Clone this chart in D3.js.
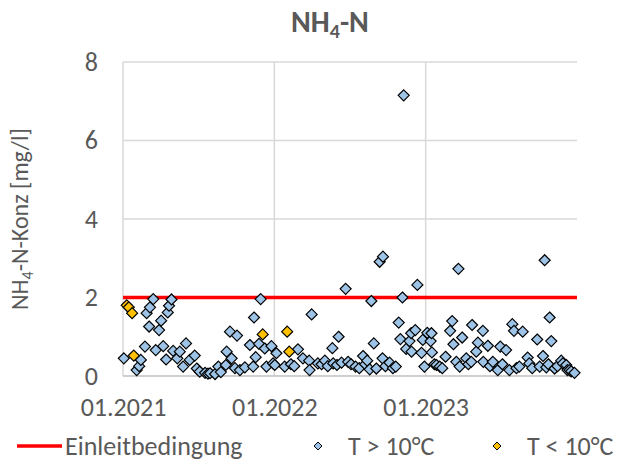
<!DOCTYPE html>
<html><head><meta charset="utf-8">
<script src="https://cdn.jsdelivr.net/npm/d3@7"></script>
<style>body{margin:0;background:#fff}svg{display:block}</style>
</head><body>
<script>
const limitDates = ["2021-01-01", "2024-01-01"];
const limitValues = [2, 2];
const xTickLabels = ["01.2021", "01.2022", "01.2023"];
const xTickDates = ["2021-01-01", "2022-01-01", "2023-01-01"];
const yTicks = [0, 2, 4, 6, 8];

const coldDates = ["2021-01-10","2021-01-15","2021-01-23","2021-01-27","2021-12-04","2022-02-01","2022-02-06"];
const coldValues = [1.80,1.75,1.60,0.52,1.06,1.13,0.62];

const warmDates = ["2021-01-03","2021-02-03","2021-02-09","2021-02-13","2021-02-23","2021-02-27","2021-03-05","2021-03-07","2021-03-15","2021-03-21",
"2021-03-29","2021-04-03","2021-04-08","2021-04-15","2021-04-19","2021-04-22","2021-04-28","2021-05-02","2021-05-12","2021-05-18",
"2021-05-26","2021-06-02","2021-06-11","2021-06-23","2021-06-28","2021-07-05","2021-07-18","2021-07-25","2021-07-30","2021-08-11",
"2021-08-19","2021-08-25","2021-09-06","2021-09-08","2021-09-16","2021-09-20","2021-09-28","2021-10-03","2021-10-10","2021-10-22",
"2021-11-03","2021-11-11","2021-11-13","2021-11-17","2021-11-25","2021-11-29","2021-12-09","2021-12-13","2021-12-25","2021-12-29",
"2022-01-02","2022-01-06","2022-01-26","2022-02-10","2022-02-18","2022-02-27","2022-03-11","2022-03-26","2022-03-27","2022-04-01",
"2022-04-16","2022-04-25","2022-05-03","2022-05-10","2022-05-21","2022-05-23","2022-06-01","2022-06-05","2022-06-12","2022-06-22",
"2022-06-28","2022-07-05","2022-07-16","2022-07-25","2022-08-03","2022-08-08","2022-08-13","2022-08-19","2022-08-23","2022-08-29",
"2022-09-04","2022-09-12","2022-09-19","2022-09-20","2022-09-26","2022-10-06","2022-10-14","2022-10-21","2022-10-28","2022-11-01",
"2022-11-06","2022-11-09","2022-11-15","2022-11-23","2022-11-27","2022-11-28","2022-12-07","2022-12-12","2022-12-22","2022-12-25",
"2022-12-29","2023-01-05","2023-01-13","2023-01-15","2023-01-16","2023-01-22","2023-01-27","2023-02-04","2023-02-10","2023-02-18",
"2023-03-01","2023-03-06","2023-03-09","2023-03-16","2023-03-21","2023-03-24","2023-03-30","2023-04-09","2023-04-14","2023-04-21",
"2023-04-23","2023-05-03","2023-05-07","2023-05-19","2023-05-20","2023-05-31","2023-06-05","2023-06-12","2023-06-24","2023-06-30",
"2023-07-05","2023-07-14","2023-07-22","2023-07-29","2023-08-02","2023-08-08","2023-08-15","2023-08-23","2023-09-04","2023-09-08",
"2023-09-15","2023-09-27","2023-10-03","2023-10-11","2023-10-15","2023-10-19","2023-10-24","2023-10-27","2023-10-31","2023-11-08",
"2023-11-15","2023-11-24","2023-11-28","2023-12-06","2023-12-09","2023-12-14","2023-12-18","2023-12-26"];
const warmValues = [0.45,0.15,0.25,0.41,0.75,1.60,1.26,1.75,1.96,0.66,
1.17,1.41,0.76,0.42,1.62,1.79,1.95,0.64,0.45,0.62,
0.24,0.83,0.41,0.52,0.19,0.11,0.08,0.06,0.07,0.05,
0.24,0.10,0.28,0.62,1.13,0.45,0.20,1.03,0.15,0.22,
0.79,0.24,1.49,0.48,0.82,1.96,0.70,0.24,0.76,0.32,
0.28,0.58,0.24,0.30,0.25,0.68,0.45,0.39,0.15,1.57,
0.32,0.30,0.39,0.25,0.71,0.32,0.28,1.00,0.34,2.22,
0.36,0.30,0.24,0.20,0.51,0.30,0.39,0.17,1.91,0.83,
0.19,2.91,0.45,3.04,0.25,0.34,0.20,0.24,1.36,0.94,
2.00,7.15,0.69,0.89,1.09,0.62,1.17,2.32,0.59,0.92,
0.24,1.10,0.89,1.09,0.60,0.30,0.28,0.24,0.20,0.49,
1.15,1.40,0.81,0.36,2.73,0.24,0.98,0.45,0.30,0.36,
1.30,0.62,0.85,1.15,0.36,0.77,0.25,0.36,0.15,0.75,
0.30,0.66,0.15,1.32,1.15,0.20,0.24,1.13,0.47,0.32,
0.20,0.93,0.24,0.51,2.95,0.22,0.30,1.49,0.89,0.19,
0.25,0.39,0.32,0.28,0.15,0.15,0.12,0.08];

const W = 632, H = 463;
const m = {left: 123, top: 62, right: 55, bottom: 87};
const font = "Calibri, Carlito, Lato, 'Open Sans', sans-serif";
const grey = "#595959";
const fs = 26;
const parse = d3.utcParse("%Y-%m-%d");

const svg = d3.select("body").append("svg").attr("width", W).attr("height", H)
  .style("font-family", font);

const x = d3.scaleUtc().domain([parse(limitDates[0]), parse(limitDates[1])]).range([m.left, W - m.right]);
const y = d3.scaleLinear().domain([0, 8]).range([H - m.bottom, m.top]);

// gridlines
svg.append("g").selectAll("line").data(yTicks.filter(d => d > 0)).join("line")
  .attr("x1", m.left).attr("x2", W - m.right).attr("y1", d => y(d)).attr("y2", d => y(d))
  .attr("stroke", "#d9d9d9").attr("stroke-width", 1.5);
svg.append("g").selectAll("line").data(xTickDates).join("line")
  .attr("x1", d => x(parse(d))).attr("x2", d => x(parse(d)))
  .attr("y1", m.top).attr("y2", y(0))
  .attr("stroke", "#d9d9d9").attr("stroke-width", 1.5);
svg.append("line").attr("x1", m.left).attr("x2", W - m.right).attr("y1", y(0)).attr("y2", y(0))
  .attr("stroke", "#bfbfbf").attr("stroke-width", 1.5);

// y axis
const yAxis = d3.axisLeft(y).tickValues(yTicks).tickSize(0).tickPadding(25);
const ya = svg.append("g").attr("transform", `translate(${m.left},0)`).call(yAxis);
ya.select(".domain").remove();
ya.selectAll("text").attr("fill", grey).style("font-size", fs + "px").style("font-family", font);

// x axis
const xAxis = d3.axisBottom(x).tickValues(xTickDates.map(parse))
  .tickFormat((d, i) => xTickLabels[i]).tickSize(0).tickPadding(22);
const xa = svg.append("g").attr("transform", `translate(0,${y(0)})`).call(xAxis);
xa.select(".domain").remove();
xa.selectAll("text").attr("fill", grey).style("font-size", fs + "px").style("font-family", font);

// limit line
const line = d3.line().x((d, i) => x(parse(limitDates[i]))).y(d => y(d));
svg.append("path").datum(limitValues).attr("d", line)
  .attr("fill", "none").attr("stroke", "#ff0000").attr("stroke-width", 3.5);

const diamond = r => `M0,${-r}L${r},0L0,${r}L${-r},0Z`;

svg.append("g").selectAll("path").data(warmValues).join("path")
  .attr("d", diamond(5.5))
  .attr("transform", (d, i) => `translate(${x(parse(warmDates[i]))},${y(d)})`)
  .attr("fill", "#9dc3e6").attr("stroke", "#000").attr("stroke-width", 1.2);
svg.append("g").selectAll("path").data(coldValues).join("path")
  .attr("d", diamond(5.5))
  .attr("transform", (d, i) => `translate(${x(parse(coldDates[i]))},${y(d)})`)
  .attr("fill", "#ffc000").attr("stroke", "#000").attr("stroke-width", 1.2);

// title
const title = svg.append("text").attr("x", 330).attr("y", 32).attr("text-anchor", "middle")
  .attr("fill", grey).style("font-size", "30px").style("font-weight", "bold");
title.append("tspan").text("NH");
title.append("tspan").text("4").style("font-size", "20px").attr("dy", 6);
title.append("tspan").text("-N").attr("dy", -6);

// y axis title
const yt = svg.append("text").attr("transform", `translate(28,${(m.top + y(0)) / 2}) rotate(-90)`)
  .attr("text-anchor", "middle").attr("fill", grey).style("font-size", "24px");
yt.append("tspan").text("NH");
yt.append("tspan").text("4").style("font-size", "16px").attr("dy", 5);
yt.append("tspan").text("-N-Konz [mg/l]").attr("dy", -5);

// legend
const ly = 446;
const lg = svg.append("g").style("font-size", fs + "px").attr("fill", grey);
lg.append("line").attr("x1", 17).attr("x2", 62).attr("y1", ly).attr("y2", ly)
  .attr("stroke", "#ff0000").attr("stroke-width", 3.5);
lg.append("text").attr("x", 65).attr("y", ly + 9).text("Einleitbedingung");
lg.append("path").attr("d", diamond(4)).attr("transform", `translate(318,${ly})`)
  .attr("fill", "#9dc3e6").attr("stroke", "#000").attr("stroke-width", 1);
lg.append("text").attr("x", 348).attr("y", ly + 9).text("T > 10°C");
lg.append("path").attr("d", diamond(4)).attr("transform", `translate(497,${ly})`)
  .attr("fill", "#ffc000").attr("stroke", "#000").attr("stroke-width", 1);
lg.append("text").attr("x", 527).attr("y", ly + 9).text("T < 10°C");
</script>
</body></html>
